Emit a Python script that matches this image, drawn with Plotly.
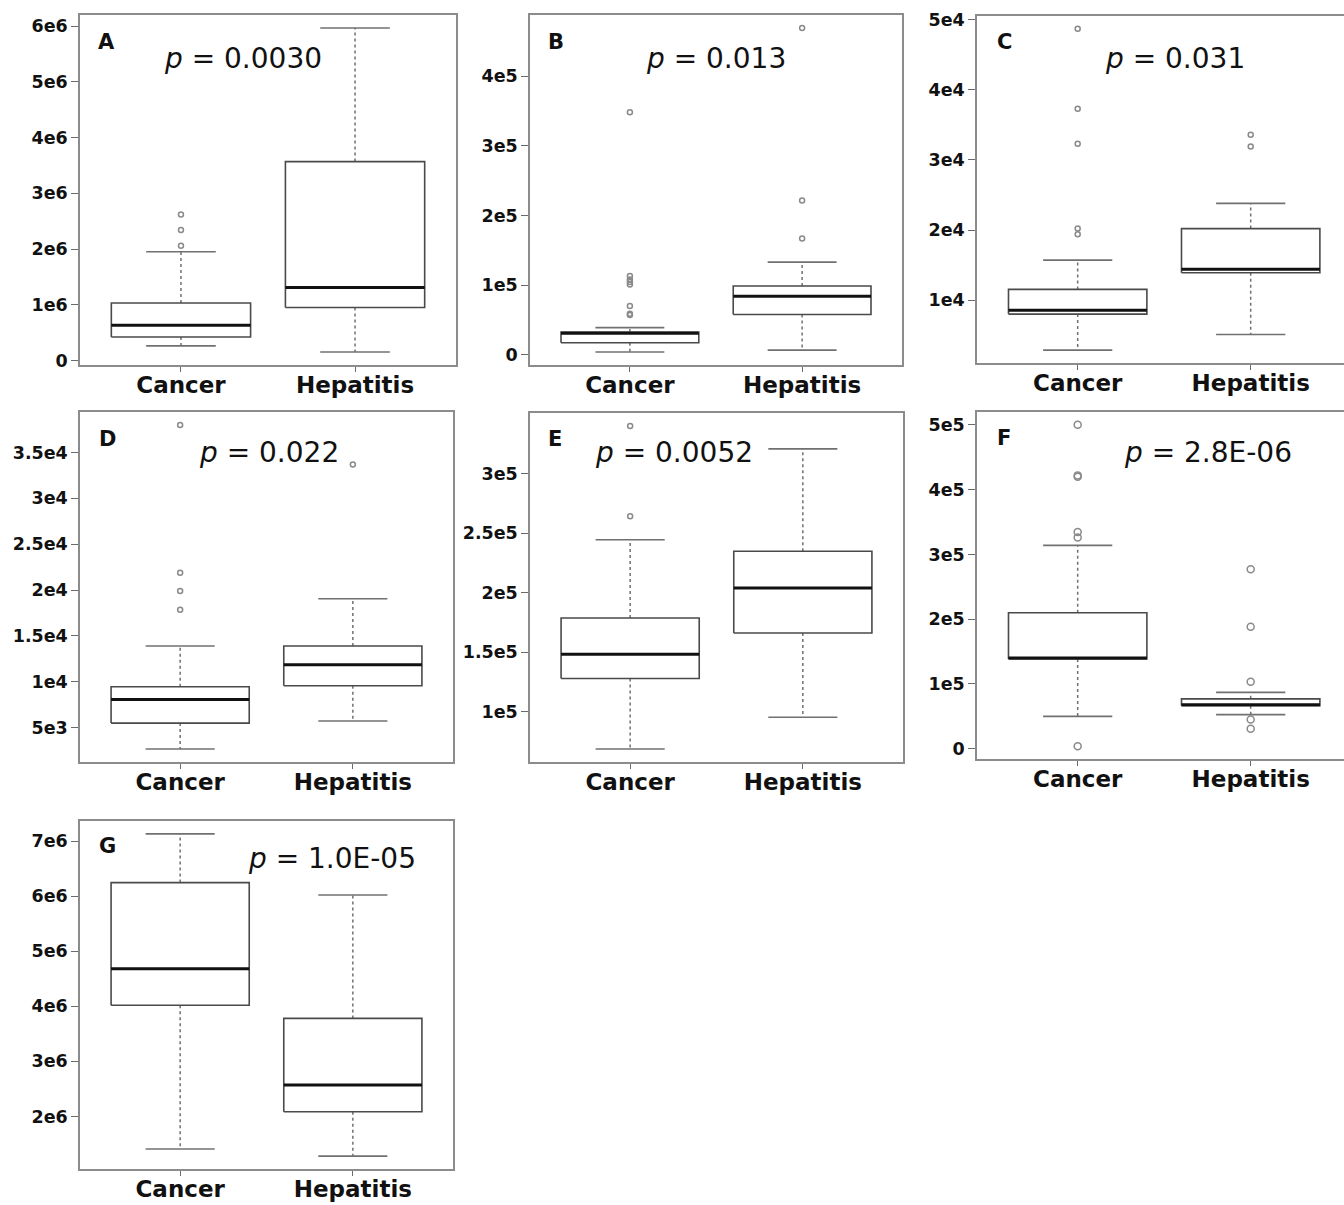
import plotly.graph_objects as go

W, H = 1344, 1205

categories = ["Cancer", "Hepatitis"]
panel_letters = ["A", "B", "C", "D", "E", "F", "G"]
p_values = ["0.0030", "0.013", "0.031", "0.022", "0.0052", "2.8E-06", "1.0E-05"]

# five-number summaries: [lower whisker, Q1, median, Q3, upper whisker]
A_cancer = [0.26e6, 0.42e6, 0.63e6, 1.03e6, 1.95e6]
A_hepatitis = [0.15e6, 0.95e6, 1.31e6, 3.57e6, 5.97e6]
A_cancer_out = [2.06e6, 2.34e6, 2.62e6]
A_hepatitis_out = []

B_cancer = [0.40e4, 1.73e4, 3.10e4, 3.27e4, 3.90e4]
B_hepatitis = [0.67e4, 5.78e4, 8.40e4, 9.87e4, 1.33e5]
B_cancer_out = [5.7e4, 5.9e4, 7.0e4, 1.01e5, 1.045e5, 1.08e5, 1.13e5, 3.48e5]
B_hepatitis_out = [1.67e5, 2.215e5, 4.69e5]

C_cancer = [0.286e4, 0.80e4, 0.857e4, 1.153e4, 1.57e4]
C_hepatitis = [0.51e4, 1.39e4, 1.44e4, 2.02e4, 2.38e4]
C_cancer_out = [1.94e4, 2.02e4, 3.23e4, 3.73e4, 4.87e4]
C_hepatitis_out = [3.19e4, 3.36e4]

D_cancer = [2.67e3, 5.5e3, 8.07e3, 9.46e3, 1.39e4]
D_hepatitis = [5.73e3, 9.57e3, 1.186e4, 1.39e4, 1.906e4]
D_cancer_out = [1.785e4, 1.99e4, 2.19e4, 3.80e4]
D_hepatitis_out = [3.37e4]

E_cancer = [0.687e5, 1.28e5, 1.484e5, 1.789e5, 2.446e5]
E_hepatitis = [0.955e5, 1.663e5, 2.04e5, 2.35e5, 3.21e5]
E_cancer_out = [2.643e5, 3.403e5]
E_hepatitis_out = []

F_cancer = [0.50e5, 1.385e5, 1.40e5, 2.10e5, 3.14e5]
F_hepatitis = [0.527e5, 0.665e5, 0.68e5, 0.77e5, 0.87e5]
F_cancer_out = [0.04e5, 3.26e5, 3.345e5, 4.20e5, 4.22e5, 5.0e5]
F_hepatitis_out = [0.307e5, 0.45e5, 1.034e5, 1.884e5, 2.77e5]

G_cancer = [1.41e6, 4.02e6, 4.68e6, 6.246e6, 7.13e6]
G_hepatitis = [1.28e6, 2.085e6, 2.57e6, 3.78e6, 6.02e6]
G_cancer_out = []
G_hepatitis_out = []

# y tick values and labels
A_ticks = [0, 1e6, 2e6, 3e6, 4e6, 5e6, 6e6]
A_ticklabels = ["0", "1e6", "2e6", "3e6", "4e6", "5e6", "6e6"]
B_ticks = [0, 1e5, 2e5, 3e5, 4e5]
B_ticklabels = ["0", "1e5", "2e5", "3e5", "4e5"]
C_ticks = [1e4, 2e4, 3e4, 4e4, 5e4]
C_ticklabels = ["1e4", "2e4", "3e4", "4e4", "5e4"]
D_ticks = [5e3, 1e4, 1.5e4, 2e4, 2.5e4, 3e4, 3.5e4]
D_ticklabels = ["5e3", "1e4", "1.5e4", "2e4", "2.5e4", "3e4", "3.5e4"]
E_ticks = [1e5, 1.5e5, 2e5, 2.5e5, 3e5]
E_ticklabels = ["1e5", "1.5e5", "2e5", "2.5e5", "3e5"]
F_ticks = [0, 1e5, 2e5, 3e5, 4e5, 5e5]
F_ticklabels = ["0", "1e5", "2e5", "3e5", "4e5", "5e5"]
G_ticks = [2e6, 3e6, 4e6, 5e6, 6e6, 7e6]
G_ticklabels = ["2e6", "3e6", "4e6", "5e6", "6e6", "7e6"]

panels = [
    ([A_cancer, A_hepatitis], [A_cancer_out, A_hepatitis_out], A_ticks, A_ticklabels),
    ([B_cancer, B_hepatitis], [B_cancer_out, B_hepatitis_out], B_ticks, B_ticklabels),
    ([C_cancer, C_hepatitis], [C_cancer_out, C_hepatitis_out], C_ticks, C_ticklabels),
    ([D_cancer, D_hepatitis], [D_cancer_out, D_hepatitis_out], D_ticks, D_ticklabels),
    ([E_cancer, E_hepatitis], [E_cancer_out, E_hepatitis_out], E_ticks, E_ticklabels),
    ([F_cancer, F_hepatitis], [F_cancer_out, F_hepatitis_out], F_ticks, F_ticklabels),
    ([G_cancer, G_hepatitis], [G_cancer_out, G_hepatitis_out], G_ticks, G_ticklabels),
]

# layout geometry in pixels: plot frame (left, top, right, bottom)
frames = [
    (80, 15, 456, 365), (530, 15, 902, 365), (977, 16, 1344, 363),
    (80, 412, 453, 762), (530, 413, 903, 762), (977, 412, 1344, 759),
    (80, 821, 453, 1169),
]
letter_pos = [(106, 42), (556, 42), (1005, 42), (107, 439), (555, 439), (1004, 438), (107, 846)]
ptext_pos = [(162, 58), (644, 58), (1103, 58), (197, 452), (593, 452), (1122, 452), (246, 858)]
cut_right = [False, False, True, False, False, True, False]
marker_sizes = [5, 5, 5, 5, 5, 7, 5]

FONT = "DejaVu Sans"
BOX_COL = "#4a4a4a"
WHISK_COL = "#707070"
FRAME_COL = "#8c8c8c"
OUT_COL = "#8a8a8a"

fig = go.Figure()
layout = dict(
    width=W, height=H, margin=dict(l=0, r=0, t=0, b=0, pad=0, autoexpand=False),
    paper_bgcolor="white", plot_bgcolor="white", showlegend=False,
    annotations=[],
)

for i, (stats, outs, ticks, ticklabels) in enumerate(panels):
    n = i + 1
    xa = "x" if n == 1 else f"x{n}"
    ya = "y" if n == 1 else f"y{n}"
    boxes_x, boxes_y = [], []
    med_x, med_y = [], []
    wh_x, wh_y = [], []
    cap_x, cap_y = [], []
    out_x, out_y = [], []
    allv = []
    for ci, (st, ou) in enumerate(zip(stats, outs)):
        c = ci + 1
        lo, q1, md, q3, hi = st
        allv += st + ou
        boxes_x += [c - 0.4, c + 0.4, c + 0.4, c - 0.4, c - 0.4, None]
        boxes_y += [q1, q1, q3, q3, q1, None]
        med_x += [c - 0.4, c + 0.4, None]
        med_y += [md, md, None]
        wh_x += [c, c, None, c, c, None]
        wh_y += [q3, hi, None, q1, lo, None]
        cap_x += [c - 0.2, c + 0.2, None, c - 0.2, c + 0.2, None]
        cap_y += [hi, hi, None, lo, lo, None]
        out_x += [c] * len(ou)
        out_y += ou
    common = dict(xaxis=xa, yaxis=ya, hoverinfo="skip", showlegend=False)
    fig.add_trace(go.Scatter(x=wh_x, y=wh_y, mode="lines",
                             line=dict(color=WHISK_COL, width=1.5, dash="dot"), **common))
    fig.add_trace(go.Scatter(x=cap_x, y=cap_y, mode="lines",
                             line=dict(color=WHISK_COL, width=1.6), **common))
    fig.add_trace(go.Scatter(x=boxes_x, y=boxes_y, mode="lines",
                             line=dict(color=BOX_COL, width=1.6), **common))
    fig.add_trace(go.Scatter(x=med_x, y=med_y, mode="lines",
                             line=dict(color="#111111", width=3), **common))
    if out_y:
        fig.add_trace(go.Scatter(x=out_x, y=out_y, mode="markers",
                                 marker=dict(symbol="circle-open", size=marker_sizes[i],
                                             color=OUT_COL, line=dict(width=1.5, color=OUT_COL)),
                                 **common))

    lft, top, rgt, bot = frames[i]
    vmin, vmax = min(allv), max(allv)
    ext = 0.04 * (vmax - vmin)
    if cut_right[i]:
        xr = [0.418, 0.418 + (rgt - lft) / 173.0]
    else:
        xr = [0.42, 2.58]
    axis_common = dict(showgrid=False, zeroline=False, showline=True, linecolor=FRAME_COL,
                       linewidth=1.5, ticks="outside", tickcolor="#6a6a6a", tickwidth=1.3,
                       automargin=False)
    layout["xaxis" if n == 1 else f"xaxis{n}"] = dict(
        domain=[lft / W, rgt / W], anchor=ya, range=xr,
        tickmode="array", tickvals=[1, 2], ticktext=categories, ticklen=5,
        ticklabelstandoff=-6,
        mirror=True,
        tickfont=dict(family=FONT, size=23, color="#111111", weight="bold"),
        **axis_common)
    layout["yaxis" if n == 1 else f"yaxis{n}"] = dict(
        domain=[1 - bot / H, 1 - top / H], anchor=xa, range=[vmin - ext, vmax + ext],
        tickmode="array", tickvals=ticks, ticktext=ticklabels, ticklen=7,
        mirror=not cut_right[i],
        tickfont=dict(family=FONT, size=17.5, color="#111111", weight="bold"),
        **axis_common)

    lx, ly = letter_pos[i]
    layout["annotations"].append(dict(
        xref="paper", yref="paper", x=lx / W, y=1 - ly / H, xanchor="center", yanchor="middle",
        text=panel_letters[i], showarrow=False,
        font=dict(family=FONT, size=21, color="#111111", weight="bold")))
    px, py = ptext_pos[i]
    layout["annotations"].append(dict(
        xref="paper", yref="paper", x=px / W, y=1 - py / H, xanchor="left", yanchor="middle",
        text="<i>p</i> = " + p_values[i], showarrow=False,
        font=dict(family=FONT, size=28, color="#111111")))

fig.update_layout(**layout)
fig.write_html("out.html")
